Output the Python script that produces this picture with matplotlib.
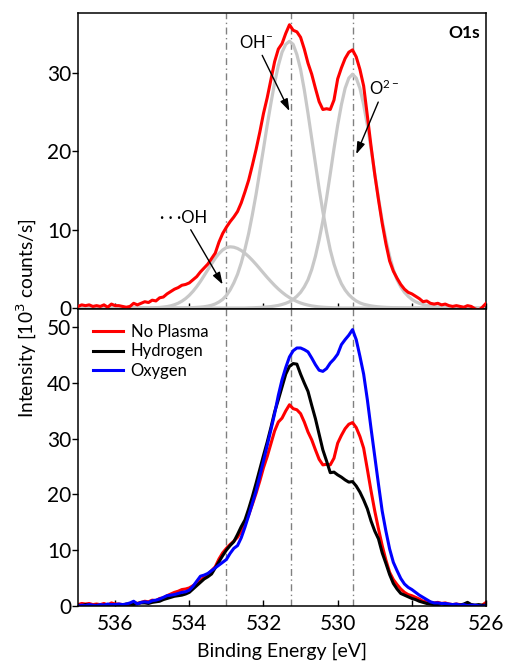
import numpy as np
import matplotlib
matplotlib.use("Agg")
import matplotlib.pyplot as plt

plt.rcParams['font.family'] = ['Lato', 'DejaVu Sans']

# binding energy grid of the spectra [eV], 537.0 -> 526.0 in 0.1 eV steps
energy = np.round(np.linspace(537.0, 526.0, 111), 1)

no_plasma = [0.2, 0.4, 0.3, 0.4, 0.2, 0.3, 0.2, 0.4, 0.1, 0.5,
             0.3, 0.3, 0.2, 0.1, 0.2, 0.6, 0.4, 0.6, 0.8, 0.7,
             1.0, 0.9, 1.3, 1.4, 1.8, 2.1, 2.4, 2.6, 2.9, 3.0,
             3.2, 3.6, 4.0, 4.6, 5.1, 5.6, 6.3, 7.0, 8.4, 9.5,
             10.3, 11.0, 11.6, 12.3, 13.4, 14.8, 16.3, 18.2, 20.2, 22.4,
             24.8, 26.8, 29.1, 31.4, 33.0, 33.7, 35.0, 36.1, 35.4, 35.2,
             34.5, 33.0, 31.2, 29.8, 28.0, 26.3, 25.3, 25.4, 25.3, 26.5,
             29.2, 30.6, 31.8, 32.6, 32.9, 32.0, 30.4, 28.3, 24.5, 20.6,
             17.0, 13.8, 10.8, 8.2, 6.0, 4.7, 3.8, 3.0, 2.4, 2.0,
             1.8, 1.5, 1.2, 0.8, 0.9, 0.6, 0.5, 0.6, 0.4, 0.5,
             0.3, 0.2, 0.3, 0.2, 0.1, 0.3, 0.2, -0.1, -0.3, 0.1,
             0.6]

hydrogen = [0.1, 0.0, 0.2, 0.1, 0.0, 0.1, 0.0, 0.1, 0.2, 0.0,
            0.2, 0.2, 0.1, 0.3, 0.3, 0.2, 0.4, 0.5, 0.5, 0.4,
            0.6, 0.7, 0.8, 1.1, 1.3, 1.5, 1.7, 1.8, 1.9, 2.1,
            2.4, 3.0, 3.6, 4.2, 4.8, 5.2, 5.7, 6.8, 7.9, 9.0,
            10.0, 10.8, 11.5, 12.8, 14.2, 15.4, 17.4, 19.6, 22.0, 24.5,
            27.0, 29.4, 32.0, 34.8, 37.0, 39.3, 41.6, 43.0, 43.5, 43.4,
            41.6, 40.0, 38.5, 36.0, 33.6, 30.8, 28.0, 26.0, 23.9, 24.0,
            23.5, 23.1, 22.6, 22.2, 22.3, 21.5, 20.4, 19.0, 17.4, 15.2,
            13.4, 12.0, 9.5, 7.6, 5.6, 4.0, 3.0, 2.2, 1.9, 1.6,
            1.3, 1.1, 0.8, 0.6, 0.4, 0.3, 0.2, 0.2, 0.3, 0.2,
            0.2, 0.1, 0.2, 0.1, 0.3, 0.6, 0.2, 0.1, 0.2, 0.1,
            0.1]

oxygen = [0.0, 0.1, 0.0, 0.2, 0.1, 0.0, 0.2, 0.1, 0.3, 0.2,
          0.2, 0.3, 0.2, 0.3, 0.5, 0.8, 0.3, 0.6, 0.7, 0.6,
          0.9, 1.0, 1.2, 1.5, 1.8, 1.9, 2.0, 2.2, 2.4, 2.5,
          2.8, 3.5, 4.4, 5.3, 5.5, 5.8, 6.3, 6.8, 7.3, 7.8,
          8.3, 9.4, 10.3, 10.8, 12.2, 14.1, 16.2, 18.4, 20.6, 23.3,
          26.0, 28.8, 31.6, 34.5, 37.8, 40.6, 42.8, 44.7, 45.8, 46.3,
          46.3, 46.0, 45.6, 44.5, 43.3, 42.3, 42.1, 42.6, 43.6, 44.3,
          45.2, 46.9, 47.8, 48.6, 49.6, 47.8, 44.8, 41.6, 37.0, 31.8,
          26.8, 21.8, 17.0, 13.4, 10.2, 7.8, 6.3, 4.9, 3.9, 3.3,
          2.9, 2.4, 1.9, 1.5, 1.1, 0.7, 0.5, 0.5, 0.4, 0.4,
          0.3, 0.2, 0.3, 0.1, 0.2, 0.0, 0.1, 0.1, 0.0, -0.1,
          0.0]

# fitted components of the No Plasma spectrum, same energy grid
fit_oh_bound = [0.0] * 21 + [
    0.04, 0.07, 0.12, 0.18, 0.28, 0.42, 0.61, 0.87, 1.20, 1.62,
    2.13, 2.72, 3.39, 4.13, 4.88, 5.63, 6.34, 6.94, 7.40, 7.70,
    7.80, 7.75, 7.59, 7.33, 6.98, 6.56, 6.08, 5.56, 5.01, 4.45,
    3.90, 3.38, 2.88, 2.42, 2.01, 1.64, 1.33, 1.06, 0.83, 0.64,
    0.49, 0.37, 0.27, 0.20, 0.14, 0.10, 0.07, 0.05, 0.03, 0.02] + [0.0] * 40

fit_oh = [0.0] * 29 + [
    0.02, 0.03, 0.05, 0.08, 0.11, 0.16, 0.24, 0.35, 0.52, 0.77,
    1.1, 1.6, 2.3, 3.2, 4.3, 5.75, 7.5, 9.5, 11.9, 14.5,
    17.4, 20.3, 23.3, 26.1, 28.7, 30.9, 32.6, 33.6, 34.0, 33.6,
    32.3, 30.4, 27.8, 24.8, 21.6, 18.4, 15.2, 12.3, 9.7, 7.4,
    5.6, 4.2, 3.1, 2.3, 1.7, 1.25, 0.9, 0.65, 0.48, 0.37,
    0.27, 0.2, 0.15, 0.11, 0.08, 0.06, 0.04, 0.03, 0.02, 0.01] + [0.0] * 22

fit_o2 = [0.0] * 46 + [
    0.02, 0.03, 0.05, 0.07, 0.1, 0.14, 0.18, 0.25, 0.33, 0.45,
    0.6, 0.8, 1.1, 1.5, 2.0, 2.7, 3.6, 4.9, 6.6, 8.7,
    11.1, 14.0, 17.1, 20.3, 23.3, 25.9, 28.0, 29.3, 29.8, 29.3,
    28.0, 25.9, 23.3, 20.3, 17.1, 14.0, 11.1, 8.7, 6.6, 4.9,
    3.6, 2.7, 2.0, 1.5, 1.1, 0.8, 0.6, 0.45, 0.33, 0.25,
    0.18, 0.14, 0.1, 0.07, 0.05, 0.03, 0.02] + [0.0] * 8

peak_positions = [533.0, 531.25, 529.6]

fig = plt.figure(figsize=(5.05, 6.63), dpi=100)
ax1 = fig.add_axes([0.1545, 0.5339, 0.808, 0.4465])
ax2 = fig.add_axes([0.1545, 0.0860, 0.808, 0.4479])

gray = '#c8c8c8'
for comp in (fit_oh_bound, fit_oh, fit_o2):
    ax1.plot(energy, comp, color=gray, lw=2.3, zorder=2)
ax1.plot(energy, no_plasma, color='#ff0000', lw=2.2, zorder=3)

ax2.plot(energy, no_plasma, color='#ff0000', lw=2.2, label='No Plasma')
ax2.plot(energy, hydrogen, color='black', lw=2.2, label='Hydrogen')
ax2.plot(energy, oxygen, color='#0000ff', lw=2.2, label='Oxygen')

for ax in (ax1, ax2):
    for e in peak_positions:
        ax.axvline(e, color='#808080', lw=1.0, ls=(0, (5, 2.5, 1, 2.5)), zorder=1)
    ax.set_xlim(537, 526)
    ax.set_xticks([536, 534, 532, 530, 528, 526])
    ax.tick_params(axis='x', direction='in', length=4, width=1, labelsize=15, pad=6)
    ax.tick_params(axis='y', direction='out', length=4, width=1, labelsize=15, pad=1)
    for sp in ax.spines.values():
        sp.set_linewidth(1.1)

ax1.set_ylim(-0.13, 37.6)
ax1.set_yticks([0, 10, 20, 30])
ax1.tick_params(axis='x', labelbottom=False)
ax2.set_ylim(-0.05, 53.3)
ax2.set_yticks([0, 10, 20, 30, 40, 50])
ax2.set_xlabel('Binding Energy [eV]', fontsize=14, labelpad=6)

ax1.text(0.985, 0.96, 'O1s', transform=ax1.transAxes, ha='right', va='top',
         fontsize=12.5, fontweight='bold')

arrow = dict(arrowstyle='-|>,head_length=0.6,head_width=0.2', color='black',
             lw=1.0, mutation_scale=12, shrinkA=1, shrinkB=0)
ax1.annotate(r'$\mathregular{OH^{-}}$', xy=(531.3, 25.1), xytext=(532.2, 33.8),
             ha='center', va='center', fontsize=12, arrowprops=arrow)
ax1.annotate(r'$\mathregular{O^{2-}}$', xy=(529.5, 19.6), xytext=(528.75, 28.0),
             ha='center', va='center', fontsize=12, arrowprops=arrow)
ax1.annotate('· · ·OH', xy=(533.1, 3.0), xytext=(534.15, 11.5),
             ha='center', va='center', fontsize=12, arrowprops=arrow)

ax2.legend(loc='upper left', bbox_to_anchor=(0.0, 1.0), frameon=False,
           fontsize=12, handlelength=1.8, handletextpad=0.45,
           labelspacing=0.2, borderaxespad=0.6, borderpad=0.3)

fig.text(0.053, 0.52, 'Intensity [10$^{3}$ counts/s]', rotation=90,
         ha='center', va='center', fontsize=13.8)

fig.savefig('out.png', dpi=100)
